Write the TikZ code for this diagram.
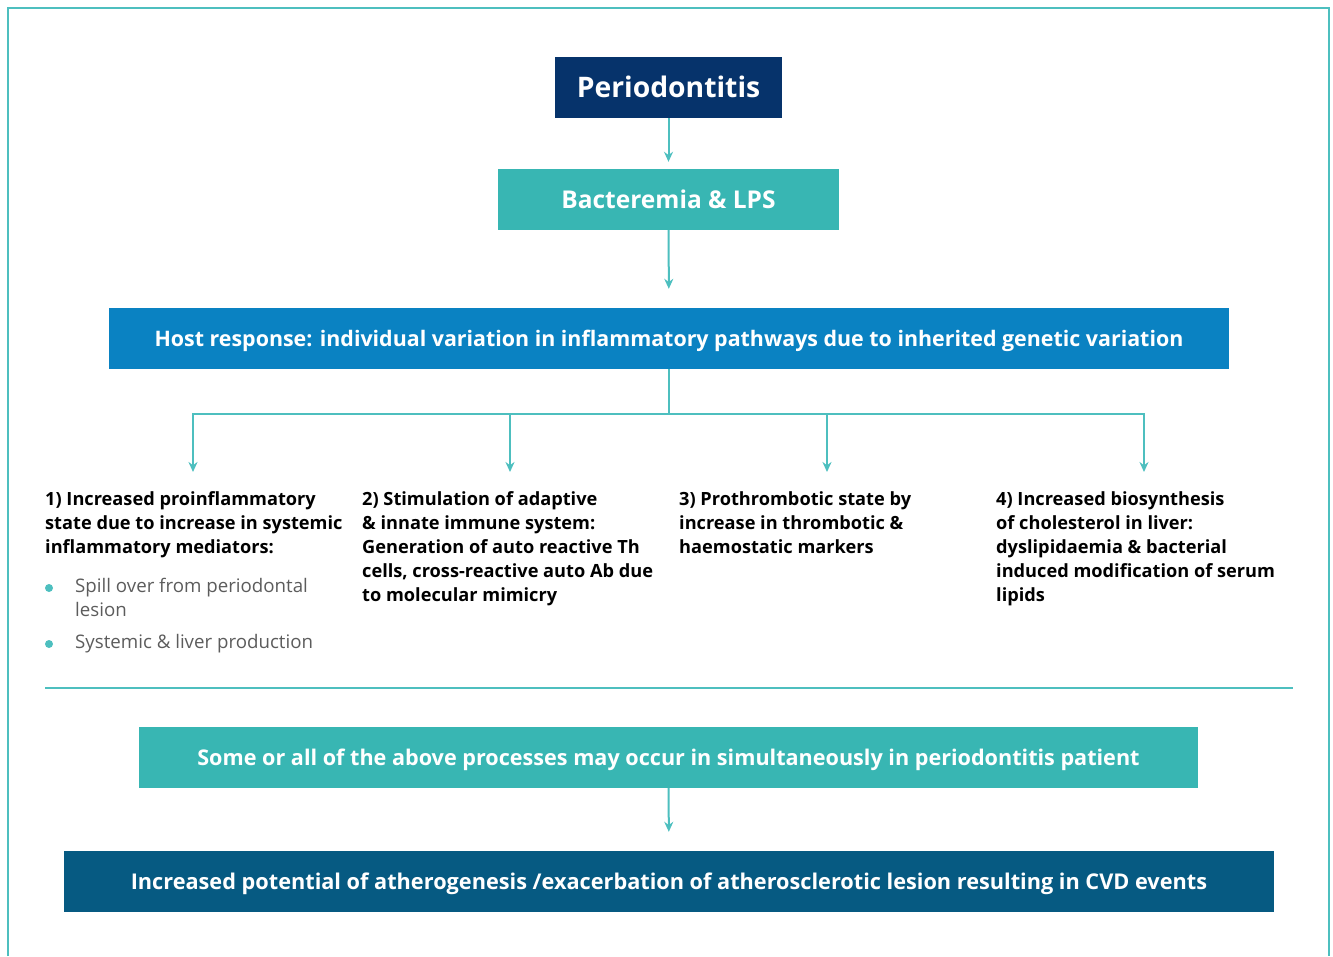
\documentclass[tikz,border=0pt]{standalone}
\usepackage{fontspec}
\setmainfont{Open Sans}
\usetikzlibrary{arrows.meta}
\definecolor{navy}{HTML}{06336B}
\definecolor{teal}{HTML}{38B6B3}
\definecolor{hostblue}{HTML}{0A82C2}
\definecolor{deepblue}{HTML}{065A82}
\definecolor{linecol}{HTML}{4DBFBF}
\definecolor{greytext}{HTML}{5C5C5C}
\begin{document}
\begin{tikzpicture}[
  x=1pt, y=-1pt,
  box/.style={rectangle,inner sep=0pt,text=white,minimum height=61pt,
    font=\fontsize{#1}{#1}\selectfont\bfseries,text height=0.714*#1pt,text depth=0pt},
  col/.style={anchor=north west,inner sep=0pt,align=left,font=\fontsize{18.2}{24}\selectfont\bfseries},
  bul/.style={anchor=north west,inner sep=0pt,align=left,text=greytext,font=\fontsize{18.7}{24}\selectfont},
  dot/.style={circle,fill=linecol,inner sep=0pt,minimum size=8pt},
  edge/.style={linecol,line width=2pt},
  arr/.style={edge,-{Stealth[length=10pt,width=9pt]}},
]
  \useasboundingbox (0,0) rectangle (1333,956);
  \draw[linecol,line width=1.5pt] (8,956) -- (8,8) -- (1329,8) -- (1329,956);
  % top boxes
  \node[box=28.3,fill=navy,minimum width=227pt] (peri) at (668.5,87.5) {Periodontitis};
  \node[box=24.5,fill=teal,minimum width=341pt] (bact) at (668.5,199.5) {Bacteremia \& LPS};
  \node[box=21.4,fill=hostblue,minimum width=1120pt] (host) at (669,338.5) {Host response: individual variation in inflammatory pathways due to inherited genetic variation};
  \draw[arr,shorten >=7pt] (peri) -- (bact);
  \draw[arr,shorten >=19pt] (bact) -- (host);
  % branches
  \coordinate (j) at (669,414);
  \coordinate (d1) at (193,472);
  \coordinate (d2) at (510,472);
  \coordinate (d3) at (827,472);
  \coordinate (d4) at (1144,472);
  \draw[edge] (host) -- (j);
  \draw[arr] (j) -| (d1);
  \draw[arr] (j) -| (d2);
  \draw[arr] (j) -| (d3);
  \draw[arr] (j) -| (d4);
  % columns
  \node[col] (c1) at (45,491) {1) Increased proinflammatory\\state due to increase in systemic\\inflammatory mediators:};
  \node[col] (c2) at (362,491) {2) Stimulation of adaptive\\\& innate immune system:\\Generation of auto reactive Th\\cells, cross-reactive auto Ab due\\to molecular mimicry};
  \node[col] (c3) at (679,491) {3) Prothrombotic state by\\increase in thrombotic \&\\haemostatic markers};
  \node[col] (c4) at (996,491) {4) Increased biosynthesis\\of cholesterol in liver:\\dyslipidaemia \& bacterial\\induced modification of serum\\lipids};
  \node[dot] (b1) at (49,588) {};
  \node[dot] (b2) at (49,644) {};
  \node[bul] (t1) at (75,578) {Spill over from periodontal\\lesion};
  \node[bul] (t2) at (75,634) {Systemic \& liver production};
  % separator
  \draw[linecol,line width=2pt] (45,688) -- (1293,688);
  % bottom boxes
  \node[box=21.6,fill=teal,minimum width=1059pt] (some) at (668.5,757.5) {Some or all of the above processes may occur in simultaneously in periodontitis patient};
  \node[box=21.7,fill=deepblue,minimum width=1210pt] (cvd) at (669,881.5) {Increased potential of atherogenesis /exacerbation of atherosclerotic lesion resulting in CVD events};
  \draw[arr,shorten >=19pt] (some) -- (cvd);
\end{tikzpicture}
\end{document}
